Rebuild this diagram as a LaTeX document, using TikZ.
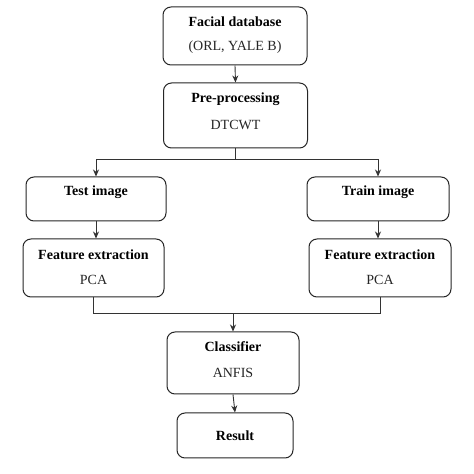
\documentclass[tikz,border=0pt]{standalone}
\usepackage{fontspec}
\setmainfont{Liberation Serif}
\usetikzlibrary{arrows.meta,calc}
\begin{document}
\begin{tikzpicture}[x=1pt,y=1pt,
  box/.style={draw=black!85,line width=1pt,rounded corners=8pt,inner sep=0pt},
  ttl/.style={font=\fontsize{14}{16}\selectfont\bfseries,inner sep=0pt,text=black},
  sub/.style={font=\fontsize{14}{16}\selectfont,inner sep=0pt,text=black!85},
  conn/.style={draw=black!80,line width=0.9pt},
  arr/.style={conn,-{Stealth[length=7pt,width=6pt]}}]
\useasboundingbox (0,0) rectangle (474,474);
\fill[white] (0,0) rectangle (474,474);
% boxes
\node[box,minimum width=144pt,minimum height=58pt] (fd) at (235,438) {};
\node[box,minimum width=144pt,minimum height=65pt] (pp) at (235.5,358.5) {};
\node[box,minimum width=140pt,minimum height=44pt] (ti) at (96,275) {};
\node[box,minimum width=141pt,minimum height=58pt] (fel) at (93.5,206) {};
\node[box,minimum width=142pt,minimum height=44pt] (tr) at (378,275) {};
\node[box,minimum width=142pt,minimum height=58pt] (fer) at (380,206) {};
\node[box,minimum width=132pt,minimum height=62pt] (cl) at (233,111) {};
\node[box,minimum width=116pt,minimum height=45pt] (re) at (235,38.5) {};
% texts
\node[ttl] (fdt) at ($(fd.north)+(0,-15)$) {Facial database};
\node[sub] (fds) at ($(fd.north)+(0,-41)$) {(ORL, YALE B)};
\node[ttl] (ppt) at ($(pp.north)+(0,-17)$) {Pre-processing};
\node[sub] (pps) at ($(pp.north)+(0,-42)$) {DTCWT};
\node[ttl] (tit) at ($(ti.north)+(0,-16)$) {Test image};
\node[ttl] (trt) at ($(tr.north)+(0,-16)$) {Train image};
\node[ttl] (felt) at ($(fel.north)+(0,-16)$) {Feature extraction};
\node[sub] (fels) at ($(fel.north)+(0,-41)$) {PCA};
\node[ttl] (fert) at ($(fer.north)+(0,-16)$) {Feature extraction};
\node[sub] (fers) at ($(fer.north)+(0,-41)$) {PCA};
\node[ttl] (clt) at ($(cl.north)+(0,-15)$) {Classifier};
\node[sub] (cls) at ($(cl.north)+(0,-41)$) {ANFIS};
\node[ttl] (ret) at (re.center) {Result};
% connectors
\draw[arr] (fd.south) -- (pp.north);
\draw[conn] (pp.south) -- ++(0,-10.5) coordinate (sp);
\draw[arr] (sp) -| (ti.north);
\draw[arr] (sp) -| (tr.north);
\draw[arr] (ti.south) -- (ti.south |- fel.north);
\draw[arr] (tr.south) -- (tr.south |- fer.north);
\draw[conn] (fel.south) -- ++(0,-16) coordinate (jl) -| (fer.south);
\draw[arr] (jl -| cl.north) -- (cl.north);
\draw[arr] (cl.south) -- (re.north);
\end{tikzpicture}
\end{document}
